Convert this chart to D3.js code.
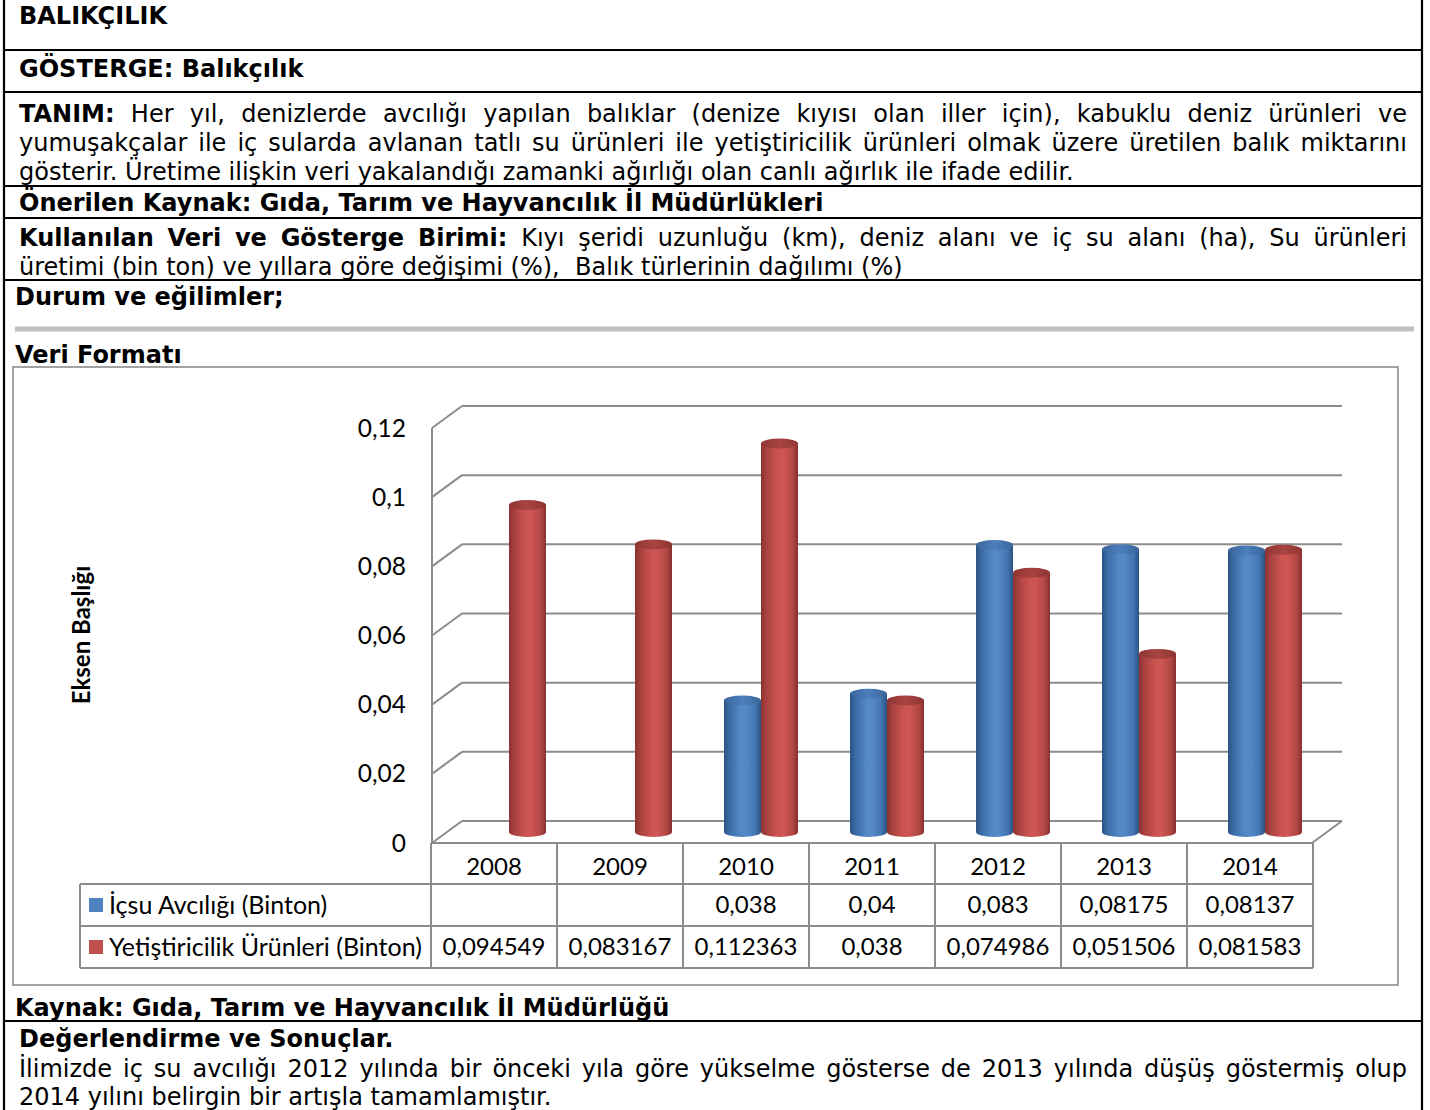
<!DOCTYPE html>
<html lang="tr">
<head>
<meta charset="utf-8">
<title>Balıkçılık</title>
<script src="https://cdn.jsdelivr.net/npm/d3@7"></script>
<style>
  html, body { margin: 0; padding: 0; background: #fff; }
  svg { display: block; }
</style>
</head>
<body>
<svg id="page" width="1430" height="1110"></svg>
<script>
// ---- data ----
const years = ["2008", "2009", "2010", "2011", "2012", "2013", "2014"];
const icsuAvciligi = [null, null, 0.038, 0.04, 0.083, 0.08175, 0.08137];
const yetistiricilik = [0.094549, 0.083167, 0.112363, 0.038, 0.074986, 0.051506, 0.081583];
const seriesNames = ["İçsu Avcılığı (Binton)", "Yetiştiricilik Ürünleri (Binton)"];
const yTicks = [0, 0.02, 0.04, 0.06, 0.08, 0.1, 0.12];
const axisTitle = "Eksen Başlığı";

// ---- document text ----
const docFont = "'DejaVu Sans', Verdana, sans-serif";
const chartFont = "Lato, Carlito, Calibri, sans-serif";
const docSize = 24;

const svg = d3.select("#page");
const defs = svg.append("defs");

// page frame and row rules
const frame = svg.append("g").attr("stroke", "#000").attr("stroke-width", 2.2);
frame.append("line").attr("x1", 4).attr("x2", 4).attr("y1", 0).attr("y2", 1110);
frame.append("line").attr("x1", 1422).attr("x2", 1422).attr("y1", 0).attr("y2", 1110);
[50, 92, 186, 218, 280, 1021].forEach(yy => {
  frame.append("line").attr("x1", 4).attr("x2", 1422).attr("y1", yy).attr("y2", yy);
});
svg.append("line").attr("x1", 15).attr("x2", 1414).attr("y1", 329).attr("y2", 329)
  .attr("stroke", "#c0c0c0").attr("stroke-width", 5);

const textLayer = svg.append("g").attr("font-family", docFont).attr("font-size", docSize).attr("fill", "#000");

function plainLine(parts, x, y) {
  const t = textLayer.append("text").attr("x", x).attr("y", y).style("white-space", "pre");
  parts.forEach(p => t.append("tspan").attr("font-weight", p.b ? "bold" : "normal").text(p.t));
  return t;
}

function justifiedLine(parts, x0, x1, y) {
  const tokens = [];
  parts.forEach(p => p.t.split(/\s+/).filter(w => w.length).forEach(w => tokens.push({ w, b: p.b })));
  const nodes = tokens.map(tk => textLayer.append("text").attr("y", y)
    .attr("font-weight", tk.b ? "bold" : "normal").text(tk.w));
  const widths = nodes.map(n => n.node().getComputedTextLength());
  const total = d3.sum(widths);
  const gap = (x1 - x0 - total) / (tokens.length - 1);
  let cx = x0;
  nodes.forEach((n, i) => { n.attr("x", cx); cx += widths[i] + gap; });
}

plainLine([{ t: "BALIKÇILIK", b: true }], 19, 24);
plainLine([{ t: "GÖSTERGE: Balıkçılık", b: true }], 19, 77);
justifiedLine([{ t: "TANIM:", b: true }, { t: "Her yıl, denizlerde avcılığı yapılan balıklar (denize kıyısı olan iller için), kabuklu deniz ürünleri ve", b: false }], 19, 1407, 122);
justifiedLine([{ t: "yumuşakçalar ile iç sularda avlanan tatlı su ürünleri ile yetiştiricilik ürünleri olmak üzere üretilen balık miktarını", b: false }], 19, 1407, 151);
plainLine([{ t: "gösterir. Üretime ilişkin veri yakalandığı zamanki ağırlığı olan canlı ağırlık ile ifade edilir.", b: false }], 19, 180);
plainLine([{ t: "Önerilen Kaynak: Gıda, Tarım ve Hayvancılık İl Müdürlükleri", b: true }], 19, 211);
justifiedLine([{ t: "Kullanılan Veri ve Gösterge Birimi:", b: true }, { t: "Kıyı şeridi uzunluğu (km), deniz alanı ve iç su alanı (ha), Su ürünleri", b: false }], 19, 1407, 246);
plainLine([{ t: "üretimi (bin ton) ve yıllara göre değişimi (%),  Balık türlerinin dağılımı (%)", b: false }], 19, 275);
plainLine([{ t: "Durum ve eğilimler;", b: true }], 15, 305);
plainLine([{ t: "Veri Formatı", b: true }], 15, 363);
plainLine([{ t: "Kaynak: Gıda, Tarım ve Hayvancılık İl Müdürlüğü", b: true }], 15, 1016);
plainLine([{ t: "Değerlendirme ve Sonuçlar.", b: true }], 19, 1047);
justifiedLine([{ t: "İlimizde iç su avcılığı 2012 yılında bir önceki yıla göre yükselme gösterse de 2013 yılında düşüş göstermiş olup", b: false }], 19, 1407, 1077);
plainLine([{ t: "2014 yılını belirgin bir artışla tamamlamıştır.", b: false }], 19, 1105);

// ---- chart ----
const chart = svg.append("g").attr("font-family", chartFont);
chart.append("rect").attr("x", 13).attr("y", 367).attr("width", 1385).attr("height", 618)
  .attr("fill", "#fff").attr("stroke", "#8c8c8c").attr("stroke-width", 1.6);

const y = d3.scaleLinear().domain([0, 0.12]).range([843, 428]);
const x = d3.scaleBand().domain(years).range([431, 1313]);
const depth = { dx: 30, dy: -22 };
const gridColor = "#8c8c8c";

// walls and gridlines
const grid = chart.append("g").attr("stroke", gridColor).attr("stroke-width", 2).attr("fill", "none");
yTicks.forEach(v => {
  grid.append("line").attr("x1", 432).attr("y1", y(v)).attr("x2", 432 + depth.dx).attr("y2", y(v) + depth.dy);
  grid.append("line").attr("x1", 432 + depth.dx).attr("y1", y(v) + depth.dy)
    .attr("x2", x.range()[1] + depth.dx - 1).attr("y2", y(v) + depth.dy);
});
grid.append("line").attr("x1", 432).attr("y1", y(0.12)).attr("x2", 432).attr("y2", y(0));
// floor front edge and right side
grid.append("line").attr("x1", 432).attr("y1", y(0)).attr("x2", x.range()[1]).attr("y2", y(0));
grid.append("line").attr("x1", x.range()[1] - 1).attr("y1", y(0))
  .attr("x2", x.range()[1] + depth.dx - 1).attr("y2", y(0) + depth.dy);

// tick labels
chart.append("g").selectAll("text").data(yTicks).join("text")
  .attr("x", 406).attr("y", d => y(d)).attr("dy", "0.35em").attr("text-anchor", "end")
  .attr("font-size", 24.5).attr("fill", "#000")
  .text(d => String(d).replace(".", ","));

chart.append("text")
  .attr("transform", "translate(90,635) rotate(-90)")
  .attr("text-anchor", "middle").attr("font-size", 24).attr("font-weight", "bold")
  .text(axisTitle);

// cylinder gradients
const palette = [
  { stops: ["#2c5384", "#3b6ca6", "#5388c8", "#5689c8", "#4374b0", "#2c5282"], top: ["#3a659a", "#4d7fbc", "#3a659a"], key: "#4f81bd" },
  { stops: ["#8a3230", "#a9423f", "#cc5451", "#ce5653", "#b34845", "#873130"], top: ["#8f3533", "#a84441", "#8f3533"], key: "#c0504d" }
];
palette.forEach((p, i) => {
  const g = defs.append("linearGradient").attr("id", "body" + i).attr("x1", 0).attr("x2", 1).attr("y1", 0).attr("y2", 0);
  [0, 0.15, 0.45, 0.6, 0.85, 1].forEach((o, k) => g.append("stop").attr("offset", o).attr("stop-color", p.stops[k]));
  const t = defs.append("linearGradient").attr("id", "top" + i).attr("x1", 0).attr("x2", 1).attr("y1", 0).attr("y2", 0);
  [0, 0.5, 1].forEach((o, k) => t.append("stop").attr("offset", o).attr("stop-color", p.top[k]));
});

const groupW = 74;
const xs = d3.scaleBand().domain([0, 1]).range([0, groupW]);
const series = [icsuAvciligi, yetistiricilik];
const mid = { dx: depth.dx / 2, dy: depth.dy / 2 };
const ry = 5;

const barsLayer = chart.append("g");
years.forEach((yr, j) => {
  series.forEach((vals, i) => {
    const v = vals[j];
    if (v == null) return;
    const x0 = x(yr) + (x.bandwidth() - groupW) / 2 + xs(i) + mid.dx;
    const w = xs.bandwidth();
    const rx = w / 2;
    const yb = y(0) + mid.dy;
    const yt = y(v) + mid.dy;
    barsLayer.append("path")
      .attr("d", `M${x0},${yt} L${x0},${yb} A${rx},${ry} 0 0 0 ${x0 + w},${yb} L${x0 + w},${yt} Z`)
      .attr("fill", `url(#body${i})`);
    barsLayer.append("ellipse")
      .attr("cx", x0 + rx).attr("cy", yt).attr("rx", rx).attr("ry", ry)
      .attr("fill", `url(#top${i})`);
  });
});

// data table
const tbl = chart.append("g");
const rowY = [843, 884, 926, 968];
const tblLine = { stroke: gridColor, "stroke-width": 2 };
function tline(x1, y1, x2, y2) {
  const l = tbl.append("line").attr("x1", x1).attr("y1", y1).attr("x2", x2).attr("y2", y2);
  Object.entries(tblLine).forEach(([k, val]) => l.attr(k, val));
}
tline(80, rowY[1], 1313, rowY[1]);
tline(80, rowY[2], 1313, rowY[2]);
tline(80, rowY[3], 1313, rowY[3]);
tline(80, rowY[1], 80, rowY[3]);
years.forEach(yr => tline(x(yr), rowY[0], x(yr), rowY[3]));
tline(x.range()[1], rowY[0], x.range()[1], rowY[3]);

tbl.selectAll("text.year").data(years).join("text")
  .attr("x", d => x(d) + x.bandwidth() / 2).attr("y", (rowY[0] + rowY[1]) / 2 + 3).attr("dy", "0.35em")
  .attr("text-anchor", "middle").attr("font-size", 24).text(d => d);

series.forEach((vals, i) => {
  const cy = (rowY[i + 1] + rowY[i + 2]) / 2;
  tbl.append("rect").attr("x", 89).attr("y", cy - 7).attr("width", 14).attr("height", 14).attr("fill", palette[i].key);
  tbl.append("text").attr("x", 109).attr("y", cy).attr("dy", "0.35em").attr("font-size", 25).text(seriesNames[i]);
  tbl.selectAll(null).data(years.map((yr, j) => ({ yr, v: vals[j] })).filter(d => d.v != null)).join("text")
    .attr("x", d => x(d.yr) + x.bandwidth() / 2).attr("y", cy).attr("dy", "0.35em")
    .attr("text-anchor", "middle").attr("font-size", 24)
    .text(d => String(d.v).replace(".", ","));
});
</script>
</body>
</html>
